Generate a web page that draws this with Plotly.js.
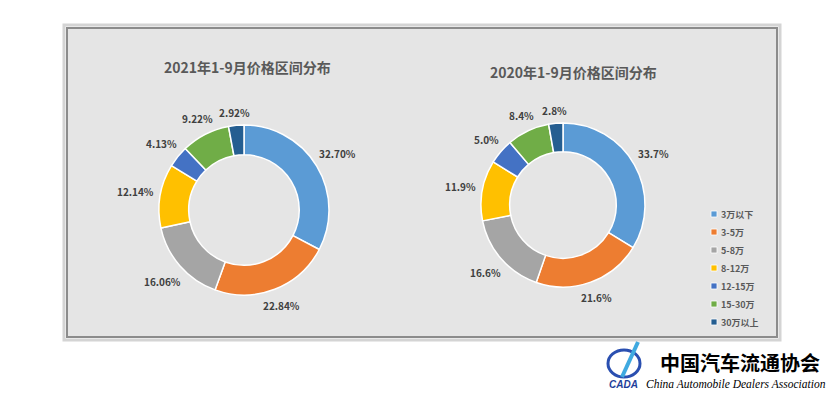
<!DOCTYPE html>
<html>
<head>
<meta charset="utf-8">
<script src="https://cdn.plot.ly/plotly-3.0.1.min.js"></script>
<style>html,body{margin:0;padding:0;background:#fff;}#chart{width:827px;height:395px;}</style>
</head>
<body>
<div id="chart"></div>
<script>
const categories = ['3万以下', '3-5万', '5-8万', '8-12万', '12-15万', '15-30万', '30万以上'];
const values2021 = [32.70, 22.84, 16.06, 12.14, 4.13, 9.22, 2.92];
const values2020 = [33.7, 21.6, 16.6, 11.9, 5.0, 8.4, 2.8];
const labels2021 = ['32.70%', '22.84%', '16.06%', '12.14%', '4.13%', '9.22%', '2.92%'];
const labels2020 = ['33.7%', '21.6%', '16.6%', '11.9%', '5.0%', '8.4%', '2.8%'];
const titles = ['2021年1-9月价格区间分布', '2020年1-9月价格区间分布'];
const colors = ['#5B9BD5', '#ED7D31', '#A5A5A5', '#FFC000', '#4472C4', '#70AD47', '#255E91'];

const W = 827, H = 395;
const FONT = '"Noto Sans CJK SC", "Noto Sans", sans-serif';
const px = x => x / W;
const py = y => 1 - y / H;

// pie geometry (pixels)
const pies = [
  {cx: 244, cy: 210, r: 85, values: values2021, text: labels2021, title: titles[0], tx: 247, ty: 67},
  {cx: 563, cy: 205, r: 82, values: values2020, text: labels2020, title: titles[1], tx: 573, ty: 72}
];

const data = pies.map((p, i) => ({
  type: 'pie',
  labels: categories,
  values: p.values,
  sort: false,
  direction: 'clockwise',
  rotation: 0,
  hole: 0.65,
  textinfo: 'none',
  hoverinfo: 'label+value',
  marker: {colors: colors, line: {color: '#ffffff', width: 1.5}},
  domain: {x: [px(p.cx - p.r), px(p.cx + p.r)], y: [py(p.cy + p.r), py(p.cy - p.r)]},
  showlegend: false
}));

const annotations = [];
const shapes = [
  // shadow
  {type: 'rect', xref: 'paper', yref: 'paper', x0: px(64), x1: px(780), y0: py(340), y1: py(25),
   line: {color: '#d4d4d4', width: 3}, fillcolor: 'rgba(0,0,0,0)', layer: 'below'},
  // panel
  {type: 'rect', xref: 'paper', yref: 'paper', x0: px(67), x1: px(777), y0: py(337), y1: py(28),
   line: {color: '#8c8c8c', width: 2}, fillcolor: '#e5e5e5', layer: 'below'}
];

pies.forEach(p => {
  annotations.push({
    x: px(p.tx), y: py(p.ty), xref: 'paper', yref: 'paper', showarrow: false,
    text: '<b>' + p.title + '</b>', font: {family: FONT, size: 14, color: '#595959'},
    xanchor: 'center', yanchor: 'middle'
  });
  const total = p.values.reduce((a, b) => a + b, 0);
  let cum = 0;
  p.values.forEach((v, k) => {
    const mid = (cum + v / 2) / total * 2 * Math.PI;
    cum += v;
    const s = Math.sin(mid), c = Math.cos(mid);
    const hw = p.text[k].length * 5.6 / 2, hh = 4;
    const d = p.r + 8 + hw * Math.abs(s) + hh * Math.abs(c);
    annotations.push({
      x: px(p.cx + d * s), y: py(p.cy - d * c), xref: 'paper', yref: 'paper', showarrow: false,
      text: '<b>' + p.text[k] + '</b>', font: {family: FONT, size: 10, color: '#404040'},
      xanchor: 'center', yanchor: 'middle'
    });
  });
});

// legend built from categories and colours
const legX = 711, legY0 = 214, legStep = 18;
categories.forEach((cat, k) => {
  const y = legY0 + k * legStep;
  shapes.push({type: 'rect', xref: 'paper', yref: 'paper',
    x0: px(legX), x1: px(legX + 6), y0: py(y + 3), y1: py(y - 3),
    line: {color: '#ffffff', width: 0.8}, fillcolor: colors[k]});
  annotations.push({
    x: px(legX + 8), y: py(y), xref: 'paper', yref: 'paper', showarrow: false,
    text: '<b>' + cat + '</b>', font: {family: FONT, size: 9, color: '#595959'},
    xanchor: 'left', yanchor: 'middle'
  });
});

// logo
annotations.push({
  x: px(740), y: py(362), xref: 'paper', yref: 'paper', showarrow: false,
  text: '<b>中国汽车流通协会</b>', font: {family: FONT, size: 20, color: '#000000'},
  xanchor: 'center', yanchor: 'middle'
});
annotations.push({
  x: px(736), y: py(384), xref: 'paper', yref: 'paper', showarrow: false,
  text: '<i>China Automobile Dealers Association</i>', font: {family: '"Liberation Serif", serif', size: 11.5, color: '#000000'},
  xanchor: 'center', yanchor: 'middle'
});
annotations.push({
  x: px(623), y: py(384), xref: 'paper', yref: 'paper', showarrow: false,
  text: '<b><i>CADA</i></b>', font: {family: '"Liberation Sans", sans-serif', size: 10, color: '#1f3f9a'},
  xanchor: 'center', yanchor: 'middle'
});
shapes.push({type: 'circle', xref: 'paper', yref: 'paper', x0: px(608), x1: px(640), y0: py(377), y1: py(350),
  line: {color: '#2a4fb0', width: 3}, fillcolor: 'rgba(0,0,0,0)'});
shapes.push({type: 'line', xref: 'paper', yref: 'paper', x0: px(622), x1: px(638), y0: py(377), y1: py(342),
  line: {color: '#3fa9e0', width: 4}});

const layout = {
  width: W, height: H,
  margin: {l: 0, r: 0, t: 0, b: 0},
  paper_bgcolor: '#ffffff',
  plot_bgcolor: 'rgba(0,0,0,0)',
  showlegend: false,
  annotations: annotations,
  shapes: shapes
};

Plotly.newPlot('chart', data, layout, {displayModeBar: false, staticPlot: true});
</script>
</body>
</html>
